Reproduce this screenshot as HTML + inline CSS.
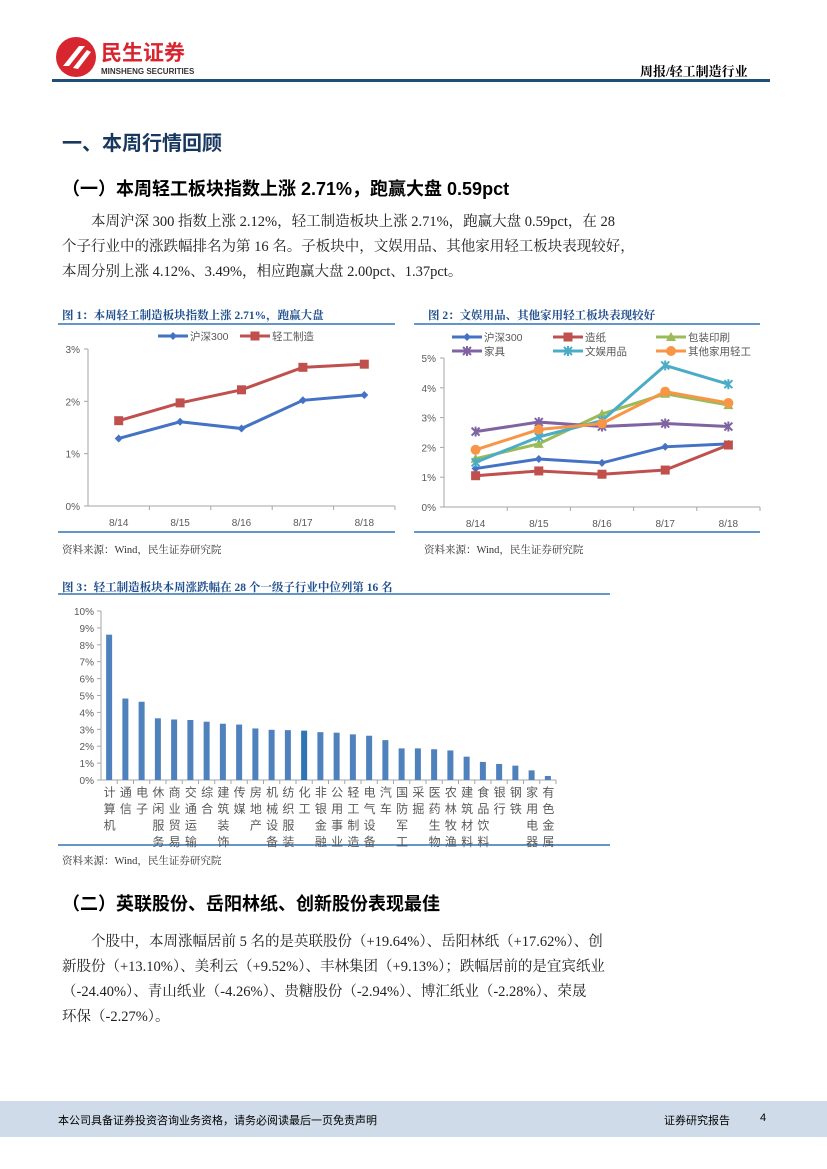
<!DOCTYPE html>
<html><head><meta charset="utf-8">
<style>
body{margin:0;width:827px;height:1169px;position:relative;background:#fff;font-family:"Liberation Serif","Noto Serif CJK SC",serif;overflow:hidden}
.a{position:absolute;white-space:nowrap}
.p{font-size:14.5px;color:#222;line-height:25px}
.ct{font-size:11.5px;font-weight:bold;color:#1f4e8c;font-family:"Liberation Serif","Noto Serif CJK SC",serif}
.src{font-size:10.5px;color:#333}
svg text{font-family:"Liberation Sans","Noto Sans CJK SC",sans-serif}
</style></head><body>
<div class="a" style="left:55px;top:36px;width:150px;height:42px">
 <svg width="150" height="42"><circle cx="21" cy="21" r="20" fill="#d7262f"/><path d="M8 30 L24 10 L30 10 L14 30Z M18 32 L32 14 L36 16 L23 33Z" fill="#fff"/>
 <text x="46" y="24" font-size="21" font-weight="bold" fill="#d7262f">民生证券</text>
 <text x="46" y="38" font-size="8" font-weight="bold" fill="#333">MINSHENG SECURITIES</text></svg>
</div>
<div class="a" style="left:640px;top:61px;font-size:13px;font-weight:bold">周报/轻工制造行业</div>
<div class="a" style="left:52px;top:79px;width:718px;height:3px;background:#1f4e79"></div>

<div class="a" style="left:62px;top:127px;font-size:20px;font-weight:bold;color:#17375e;font-family:'Liberation Sans','Noto Sans CJK SC',sans-serif">一、本周行情回顾</div>
<div class="a" style="left:62px;top:175px;font-size:18px;font-weight:bold;font-family:'Liberation Sans','Noto Sans CJK SC',sans-serif">（一）本周轻工板块指数上涨 2.71%，跑赢大盘 0.59pct</div>
<div class="a p" style="left:62px;top:210px">
<div>&emsp;&emsp;本周沪深 300 指数上涨 2.12%，轻工制造板块上涨 2.71%，跑赢大盘 0.59pct，在 28</div>
<div>个子行业中的涨跌幅排名为第 16 名。子板块中，文娱用品、其他家用轻工板块表现较好，</div>
<div>本周分别上涨 4.12%、3.49%，相应跑赢大盘 2.00pct、1.37pct。</div></div>

<div class="a ct" style="left:62px;top:307px">图 1：本周轻工制造板块指数上涨 2.71%，跑赢大盘</div>
<div class="a ct" style="left:428px;top:307px">图 2：文娱用品、其他家用轻工板块表现较好</div>
<div class="a src" style="left:62px;top:542px">资料来源：Wind，民生证券研究院</div>
<div class="a src" style="left:424px;top:542px">资料来源：Wind，民生证券研究院</div>
<div class="a ct" style="left:62px;top:579px">图 3：轻工制造板块本周涨跌幅在 28 个一级子行业中位列第 16 名</div>
<div class="a src" style="left:62px;top:853px">资料来源：Wind，民生证券研究院</div>

<div class="a" style="left:62px;top:890px;font-size:18px;font-weight:bold;font-family:'Liberation Sans','Noto Sans CJK SC',sans-serif">（二）英联股份、岳阳林纸、创新股份表现最佳</div>
<div class="a p" style="left:62px;top:930px">
<div>&emsp;&emsp;个股中，本周涨幅居前 5 名的是英联股份（+19.64%）、岳阳林纸（+17.62%）、创</div>
<div>新股份（+13.10%）、美利云（+9.52%）、丰林集团（+9.13%）；跌幅居前的是宜宾纸业</div>
<div>（-24.40%）、青山纸业（-4.26%）、贵糖股份（-2.94%）、博汇纸业（-2.28%）、荣晟</div>
<div>环保（-2.27%）。</div></div>

<div class="a" style="left:0;top:1101px;width:827px;height:36px;background:#cfdbe9"></div>
<div class="a" style="left:58px;top:1112px;font-size:11px;font-family:'Liberation Sans','Noto Sans CJK SC',sans-serif">本公司具备证券投资咨询业务资格，请务必阅读最后一页免责声明</div>
<div class="a" style="left:664px;top:1112px;font-size:11px;font-family:'Liberation Sans','Noto Sans CJK SC',sans-serif">证券研究报告</div>
<div class="a" style="left:760px;top:1112px;font-size:11px;font-family:'Liberation Sans',sans-serif">4</div>

<svg id="chart" class="a" style="left:0;top:0" width="827" height="1169"></svg>
<script>
const dates=["8/14","8/15","8/16","8/17","8/18"];
const c1Names=["沪深300","轻工制造"];
const c1Hs300=[1.29,1.61,1.48,2.02,2.12];
const c1Light=[1.63,1.97,2.22,2.65,2.71];
const c1Ticks=[0,1,2,3];
const c2Names=["沪深300","造纸","包装印刷","家具","文娱用品","其他家用轻工"];
const c2Hs300=[1.29,1.61,1.48,2.02,2.12];
const c2Paper=[1.05,1.21,1.10,1.24,2.08];
const c2Pack=[1.62,2.12,3.12,3.80,3.42];
const c2Furn=[2.53,2.85,2.70,2.80,2.70];
const c2Stat=[1.50,2.35,2.90,4.75,4.12];
const c2Other=[1.92,2.60,2.80,3.87,3.49];
const c2Ticks=[0,1,2,3,4,5];
const c3Cats=["计算机","通信","电子","休闲服务","商业贸易","交通运输","综合","建筑装饰","传媒","房地产","机械设备","纺织服装","化工","非银金融","公用事业","轻工制造","电气设备","汽车","国防军工","采掘","医药生物","农林牧渔","建筑材料","食品饮料","银行","钢铁","家用电器","有色金属"];
const c3Vals=[8.6,4.82,4.63,3.65,3.58,3.55,3.45,3.33,3.28,3.05,2.97,2.95,2.92,2.83,2.80,2.70,2.62,2.36,1.87,1.87,1.82,1.75,1.38,1.07,0.95,0.85,0.57,0.24];
const c3Ticks=[0,1,2,3,4,5,6,7,8,9,10];

const S=document.getElementById('chart'),NS="http://www.w3.org/2000/svg";
function mk(t,a,txt){const e=document.createElementNS(NS,t);for(const k in a)e.setAttribute(k,a[k]);if(txt!=null)e.textContent=txt;S.appendChild(e);return e;}
function marker(type,x,y,col){let e;
 if(type==='d')e=mk('path',{d:`M${x} ${y-4}L${x+4} ${y}L${x} ${y+4}L${x-4} ${y}Z`,fill:col});
 else if(type==='s')e=mk('rect',{x:x-4.5,y:y-4.5,width:9,height:9,fill:col});
 else if(type==='t')e=mk('path',{d:`M${x} ${y-5}L${x+5} ${y+4}L${x-5} ${y+4}Z`,fill:col});
 else if(type==='c')e=mk('circle',{cx:x,cy:y,r:5,fill:col});
 else e=mk('path',{d:`M${x-4} ${y-4}L${x+4} ${y+4}M${x+4} ${y-4}L${x-4} ${y+4}M${x} ${y-5}V${y+5}`,stroke:col,'stroke-width':2});
 
 }
function lineChart(o){
 const xs=i=>o.x0+(i+0.5)*(o.x1-o.x0)/dates.length;
 const ys=v=>o.y0-(v/o.max)*(o.y0-o.y1);
 let r=mk('line',{x1:o.hx0,x2:o.hx1,y1:o.ry,y2:o.ry,stroke:'#2e75b6','stroke-width':1.5});
 
 r=mk('line',{x1:o.hx0,x2:o.hx1,y1:o.by,y2:o.by,stroke:'#2e75b6','stroke-width':1.5});
 
 let ax=mk('path',{d:`M${o.x0} ${o.y1}V${o.y0}H${o.x1}`,stroke:'#a6a6a6',fill:'none'});
 
 o.ticks.forEach(t=>{const y=ys(t);mk('line',{x1:o.x0-4,x2:o.x0,y1:y,y2:y,stroke:'#a6a6a6'});
  const tx=mk('text',{x:o.x0-8,y:y+4,'font-size':10,fill:'#595959','text-anchor':'end'},t+'%');
  });
 dates.forEach((d,i)=>{const xb=o.x0+(i+1)*(o.x1-o.x0)/dates.length;mk('line',{x1:xb,x2:xb,y1:o.y0,y2:o.y0+4,stroke:'#a6a6a6'});
  const tx=mk('text',{x:xs(i),y:o.y0+20,'font-size':10,fill:'#595959','text-anchor':'middle'},d);
  });
 o.series.forEach(s=>{
  const p=mk('polyline',{points:s.v.map((v,i)=>xs(i)+','+ys(v)).join(' '),fill:'none',stroke:s.c,'stroke-width':3});
  
  s.v.forEach((v,i)=>marker(s.m,xs(i),ys(v),s.c));
  const lg=mk('line',{x1:s.lx,x2:s.lx+30,y1:s.ly,y2:s.ly,stroke:s.c,'stroke-width':3});
  
  marker(s.m,s.lx+15,s.ly,s.c);
  const lt=mk('text',{x:s.lx+32,y:s.ly+4,'font-size':10.5,fill:'#595959'},s.n);
  });
}
lineChart({x0:88,x1:395,y0:506,y1:349,max:3,hx0:58,hx1:395,ry:324,by:532,ticks:c1Ticks,series:[
 {v:c1Hs300,c:'#4472c4',m:'d',n:c1Names[0],lx:158,ly:336},
 {v:c1Light,c:'#c0504d',m:'s',n:c1Names[1],lx:240,ly:336}]});
lineChart({x0:444,x1:760,y0:507,y1:358,max:5,hx0:414,hx1:760,ry:324,by:532,ticks:c2Ticks,series:[
 {v:c2Hs300,c:'#4472c4',m:'d',n:c2Names[0],lx:452,ly:337},
 {v:c2Paper,c:'#c0504d',m:'s',n:c2Names[1],lx:553,ly:337},
 {v:c2Pack,c:'#9bbb59',m:'t',n:c2Names[2],lx:656,ly:337},
 {v:c2Furn,c:'#8064a2',m:'x',n:c2Names[3],lx:452,ly:351},
 {v:c2Stat,c:'#4bacc6',m:'x',n:c2Names[4],lx:553,ly:351},
 {v:c2Other,c:'#f79646',m:'c',n:c2Names[5],lx:656,ly:351}]});
// chart 3
(function(){
 const x0=101,x1=556,y0=780,y1=611,max=10,n=c3Cats.length,step=(x1-x0)/n;
 const ys=v=>y0-v/max*(y0-y1);
 let r=mk('line',{x1:58,x2:610,y1:594,y2:594,stroke:'#2e75b6','stroke-width':1.5});
 
 r=mk('line',{x1:58,x2:610,y1:845,y2:845,stroke:'#2e75b6','stroke-width':1.5});
 
 const ax=mk('path',{d:`M${x0} ${y1}V${y0}H${x1}`,stroke:'#a6a6a6',fill:'none'});
 
 c3Ticks.forEach(t=>{const y=ys(t);mk('line',{x1:x0-4,x2:x0,y1:y,y2:y,stroke:'#a6a6a6'});
  const tx=mk('text',{x:x0-7,y:y+4,'font-size':10,fill:'#595959','text-anchor':'end'},t+'%');
  });
 c3Cats.forEach((c,i)=>{const cx=x0+(i+0.5)*step,v=c3Vals[i];
  const b=mk('rect',{x:cx-3,y:ys(v),width:6,height:y0-ys(v),fill:i==12?'#2e75b6':'#4f81bd'});
  
  mk('line',{x1:x0+(i+1)*step,x2:x0+(i+1)*step,y1:y0,y2:y0+4,stroke:'#a6a6a6'});
  const t=mk('text',{x:cx,y:y0+6,'font-size':12,fill:'#595959','letter-spacing':4.5,style:'writing-mode:vertical-rl;glyph-orientation-vertical:0'},c);
  });
})();
</script>
</body></html>
